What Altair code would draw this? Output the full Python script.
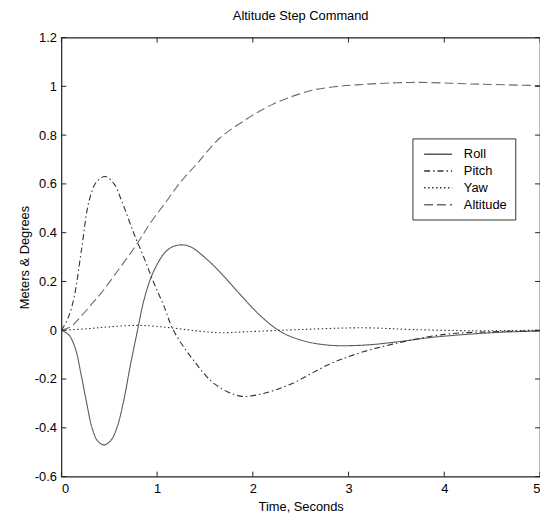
import altair as alt
import pandas as pd

# ---- data ----
series_names = ["Roll", "Pitch", "Yaw", "Altitude"]

roll_t = [0, 0.08, 0.15, 0.2, 0.26, 0.32, 0.38, 0.45, 0.52, 0.58, 0.65, 0.72, 0.79, 0.86, 0.93,
          1.0, 1.08, 1.16, 1.25, 1.35, 1.55, 1.7, 1.86, 2.0, 2.12, 2.23, 2.35, 2.5, 2.65, 2.87,
          3.2, 3.5, 3.9, 4.5, 5.0]
roll_v = [0, -0.02, -0.08, -0.17, -0.29, -0.40, -0.455, -0.47, -0.45, -0.40, -0.29, -0.145,
          -0.01, 0.12, 0.21, 0.27, 0.318, 0.342, 0.35, 0.342, 0.28, 0.22, 0.15, 0.09, 0.045, 0.01,
          -0.018, -0.04, -0.054, -0.063, -0.06, -0.048, -0.028, -0.01, -0.003]

pitch_t = [0, 0.07, 0.134, 0.21, 0.289, 0.37, 0.46, 0.55, 0.63, 0.754, 0.86, 0.96, 1.07, 1.17,
           1.37, 1.6, 1.87, 2.1, 2.4, 2.8, 3.1, 3.46, 4.0, 4.5, 5.0]
pitch_v = [0, 0.05, 0.138, 0.33, 0.53, 0.61, 0.63, 0.6, 0.53, 0.4, 0.3, 0.2, 0.1, 0.0,
           -0.118, -0.22, -0.27, -0.26, -0.22, -0.139, -0.095, -0.057, -0.017, -0.006, -0.003]

yaw_t = [0, 0.27, 0.5, 0.81, 1.1, 1.4, 1.65, 1.94, 2.5, 3.15, 3.66, 4.3, 5.0]
yaw_v = [0, 0.006, 0.014, 0.02, 0.012, -0.002, -0.01, -0.006, 0.003, 0.01, 0.003, -0.002, 0.0]

alt_t = [0, 0.1, 0.19, 0.3, 0.41, 0.6, 0.79, 0.93, 1.1, 1.25, 1.41, 1.65, 1.94, 2.2, 2.48, 2.63,
         2.85, 3.08, 3.66, 4.35, 5.0]
alt_v = [0, 0.015, 0.05, 0.1, 0.15, 0.25, 0.354, 0.44, 0.53, 0.61, 0.68, 0.786, 0.867, 0.925,
         0.968, 0.985, 0.998, 1.006, 1.016, 1.009, 1.003]

x_ticks = [0, 1, 2, 3, 4, 5]
y_ticks = [-0.6, -0.4, -0.2, 0, 0.2, 0.4, 0.6, 0.8, 1.0, 1.2]

rows = []
for name, ts, vs in [("Roll", roll_t, roll_v), ("Pitch", pitch_t, pitch_v),
                     ("Yaw", yaw_t, yaw_v), ("Altitude", alt_t, alt_v)]:
    for i, (t, v) in enumerate(zip(ts, vs)):
        rows.append({"Time": t, "Value": v, "Series": name, "order": i})
df = pd.DataFrame(rows)
xt_df = pd.DataFrame({"Time": x_ticks})
yt_df = pd.DataFrame({"Value": y_ticks})

# ---- styling ----
W, H = 484, 444
FONT = "Liberation Sans"
colors = ["#5a5a5a", "#333333", "#333333", "#6a6a6a"]
dashes = [[1, 0], [6, 3, 1.5, 3], [1.5, 2.5], [9, 4]]
TICK = 5
FRAME = "#222222"

xscale = alt.Scale(domain=[0, 5], nice=False, zero=False)
yscale = alt.Scale(domain=[-0.6, 1.2], nice=False, zero=False)
ylabel = "replace(format(datum.value, '.1~f'), '\u2212', '-')"

x_axis = alt.Axis(title="Time, Seconds", values=x_ticks, ticks=False, domain=False,
                  grid=False, labelPadding=6, titlePadding=5, format="d",
                  labelFont=FONT, labelFontSize=13, labelColor="black",
                  titleFont=FONT, titleFontSize=13, titleFontWeight="normal",
                  titleColor="black")
y_axis = alt.Axis(title="Meters & Degrees", values=y_ticks, ticks=False, domain=False,
                  grid=False, labelPadding=5, titlePadding=3, labelExpr=ylabel,
                  labelFont=FONT, labelFontSize=13, labelColor="black",
                  titleFont=FONT, titleFontSize=13, titleFontWeight="normal",
                  titleColor="black")

legend_common = dict(title=None, orient="none", legendX=355, legendY=102,
                     symbolType="M-2,0H2", symbolSize=200, symbolStrokeWidth=1.5,
                     symbolOffset=10, symbolFillColor="transparent",
                     labelFont=FONT, labelFontSize=13, labelColor="black",
                     strokeColor="#333333", fillColor="white", padding=8,
                     labelOffset=18, rowPadding=2, cornerRadius=0)

lines = alt.Chart(df).mark_line(strokeWidth=1.1, interpolate="catmull-rom").encode(
    x=alt.X("Time:Q", scale=xscale, axis=x_axis),
    y=alt.Y("Value:Q", scale=yscale, axis=y_axis),
    color=alt.Color("Series:N", scale=alt.Scale(domain=series_names, range=colors),
                    legend=alt.Legend(**legend_common)),
    strokeDash=alt.StrokeDash("Series:N", scale=alt.Scale(domain=series_names, range=dashes),
                              legend=alt.Legend(**legend_common)),
    order="order:Q",
)

# inward tick marks on all four sides, positioned by the shared scales
xt = alt.Chart(xt_df)
yt = alt.Chart(yt_df)
tick_bottom = xt.mark_rule(color=FRAME, strokeWidth=1).encode(
    x=alt.X("Time:Q", scale=xscale, axis=x_axis), y=alt.value(H), y2=alt.value(H - TICK))
tick_top = xt.mark_rule(color=FRAME, strokeWidth=1).encode(
    x=alt.X("Time:Q", scale=xscale, axis=x_axis), y=alt.value(0), y2=alt.value(TICK))
tick_left = yt.mark_rule(color=FRAME, strokeWidth=1).encode(
    y=alt.Y("Value:Q", scale=yscale, axis=y_axis), x=alt.value(0), x2=alt.value(TICK))
tick_right = yt.mark_rule(color=FRAME, strokeWidth=1).encode(
    y=alt.Y("Value:Q", scale=yscale, axis=y_axis), x=alt.value(W), x2=alt.value(W - TICK))

chart = alt.layer(lines, tick_bottom, tick_top, tick_left, tick_right).properties(
    width=W, height=H,
    title=alt.TitleParams("Altitude Step Command", font=FONT, fontSize=13, fontWeight="normal",
                          color="black", anchor="middle", offset=9),
    padding={"left": 54, "top": 27, "right": 0, "bottom": 40},
    autosize=alt.AutoSizeParams(type="none"),
).configure_view(stroke=FRAME, strokeWidth=1.2)

chart.save("out.html", embed_options={"renderer": "svg", "actions": False})
